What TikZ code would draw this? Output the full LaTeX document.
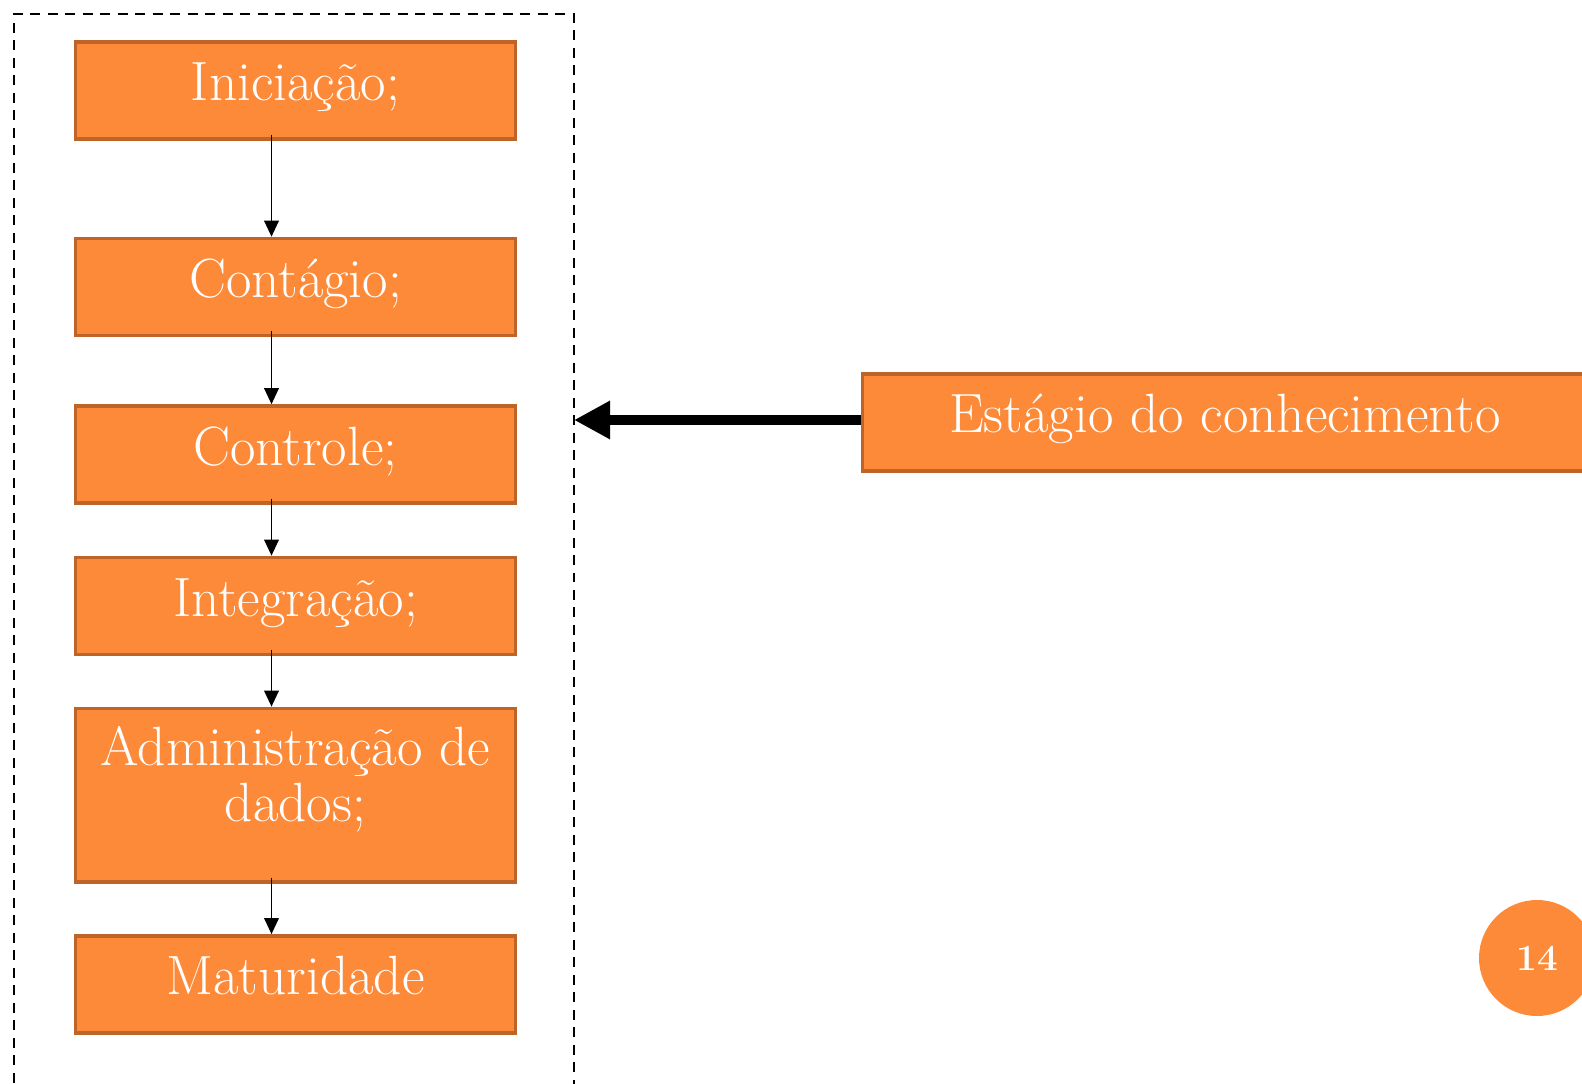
\documentclass[tikz,border=0pt]{standalone}
\usepackage{tikz}
\usetikzlibrary{positioning, arrows.meta}
\definecolor{boxfill}{HTML}{FD8A38}
\definecolor{boxline}{HTML}{BE6428}
\tikzset{
stage/.style={draw=boxline, fill=boxfill, line width=2pt, text=white, minimum width=8.8cm, minimum height=1.94cm, inner sep=0pt, align=center, text depth=10pt, font=\fontsize{31.5}{31.5}\selectfont}, % the orange boxes
flow/.style={-{Triangle[width=0.29cm, length=0.32cm]}, line width=1.1pt}, % thin arrows between stages
bigflow/.style={-{Triangle[width=0.72cm, length=0.72cm]}, line width=5.7pt}, % the thick arrow
dashframe/.style={dash pattern=on 0.2cm off 0.15cm, line width=1.3pt}, % the dashed frame
}
\begin{document}
\begin{tikzpicture}[x=0.02cm, y=0.02cm]
    \clip (0,0) rectangle (1582,-1084);
    \node[stage] (ini) at (295.5,-90.5) {Iniciação;};
    \node[stage, below=1.92cm of ini] (cont) {Contágio;};
    \node[stage, below=1.34cm of cont] (ctrl) {Controle;};
    \node[stage, below=1.02cm of ctrl] (integ) {Integração;};
    \node[stage, below=1.01cm of integ, minimum height=3.47cm, text depth=24pt] (adm) {Administração de\\dados;};
    \node[stage, below=1.01cm of adm] (mat) {Maturidade};
    \node[stage, minimum width=14.5cm] (est) at (1225,-422.5) {Estágio do conhecimento};
    \node[circle, fill=boxfill, minimum size=2.32cm, text=white, font=\fontsize{21}{24}\selectfont\bfseries] (pg) at (1537,-958) {14};

    \draw[dashframe] (14,-1100) |- (574,-14) -- (574,-1100);
    \coordinate (frame) at (574,0);

    \draw[flow] ([xshift=-0.48cm, yshift=0.12cm]ini.south) -- ([xshift=-0.48cm]cont.north);
    \draw[flow] ([xshift=-0.48cm, yshift=0.12cm]cont.south) -- ([xshift=-0.48cm]ctrl.north);
    \draw[flow] ([xshift=-0.48cm, yshift=0.12cm]ctrl.south) -- ([xshift=-0.48cm]integ.north);
    \draw[flow] ([xshift=-0.48cm, yshift=0.12cm]integ.south) -- ([xshift=-0.48cm]adm.north);
    \draw[flow] ([xshift=-0.48cm, yshift=0.12cm]adm.south) -- ([xshift=-0.48cm]mat.north);

    \draw[bigflow] ([yshift=0.05cm]est.west) -- ([yshift=0.05cm]est.west -| frame);
\end{tikzpicture}
\end{document}
